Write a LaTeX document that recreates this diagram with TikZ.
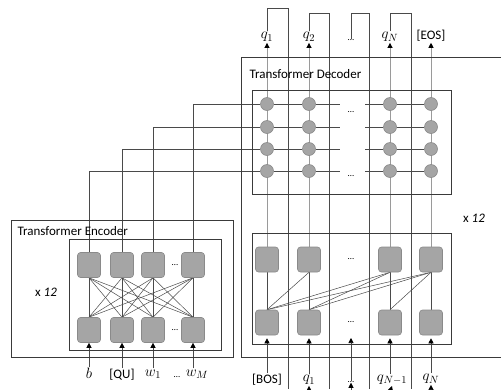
\documentclass[tikz,border=0pt]{standalone}
\usepackage{fix-cm}
\usepackage{fontspec}
\setmainfont{Carlito}
\usepackage{tikz}
\usetikzlibrary{arrows.meta,backgrounds}
\definecolor{blockgray}{HTML}{A5A5A5}
\definecolor{blockedge}{HTML}{8A8A8A}
\definecolor{framegray}{HTML}{3A3A3A}
\definecolor{wiregray}{HTML}{4A4A4A}
\definecolor{colgray}{HTML}{9A9A9A}

\begin{document}
\begin{tikzpicture}[
    x=1pt, y=-1pt,
    font=\fontsize{13}{15}\selectfont,
    frame/.style={draw=framegray, line width=0.8pt},
    block/.style={rectangle, rounded corners=3pt, fill=blockgray, draw=blockedge, line width=0.6pt, minimum width=23pt, minimum height=25pt, inner sep=0pt},
    unit/.style={circle, fill=blockgray, draw=blockedge, line width=0.6pt, minimum size=13pt, inner sep=0pt},
    wire/.style={draw=wiregray, line width=0.5pt},
    colwire/.style={draw=colgray, line width=0.7pt, -{Triangle[length=5pt,width=5pt,color=black]}},
    feed/.style={draw=wiregray, line width=0.6pt, -{Triangle[length=5pt,width=5pt,color=black]}},
    ellip/.style={inner sep=0pt, font=\small},
    tok/.style={inner sep=1pt},
    mtok/.style={inner sep=1pt, font=\fontsize{15}{17}\selectfont}
]
\useasboundingbox (0,0) rectangle (501,389);

% encoder
\draw[frame] (11,220) rectangle (233,357);
\node[anchor=west] (enc-title) at (14,231) {Transformer Encoder};
\draw[frame] (69,239) rectangle (221,350);
\node (enc-rep) at (46,292) {x \textit{12}};
\foreach \n/\x in {1/89,2/122,3/153,4/193} {
    \node[block] (et-\n) at (\x,265) {};
    \node[block] (eb-\n) at (\x,330) {};
}
\node[ellip] (et-dots) at (175,265) {\dots};
\node[ellip] (eb-dots) at (175,330) {\dots};
\node[mtok] (in-b) at (89,373) {$b$};
\node[tok] (in-qu) at (122,375) {[QU]};
\node[mtok] (in-w1) at (153,374) {$w_1$};
\node[ellip] (in-wdots) at (177,377) {\dots};
\node[mtok] (in-wm) at (197,374) {$w_M$};

% decoder
\draw[frame] (501,57) -| (241,357) -- (501,357);
\node[anchor=west] (dec-title) at (246,74) {Transformer Decoder};
\draw[frame] (252,90) rectangle (451,194);
\draw[frame] (252,233) rectangle (451,344);
\node (dec-rep) at (474,218) {x \textit{12}};
\foreach \c/\x in {1/267,2/309,3/390,4/431} {
    \foreach \r/\y in {1/104,2/127,3/149,4/171}
        \node[unit] (u-\r-\c) at (\x,\y) {};
    \node[block] (dt-\c) at (\x,259.5) {};
    \node[block] (db-\c) at (\x,322.5) {};
}
\node[ellip] (u-dots-a) at (351,112) {\dots};
\node[ellip] (u-dots-b) at (351,176) {\dots};
\node[ellip] (dt-dots) at (351,259) {\dots};
\node[ellip] (db-dots) at (351,322) {\dots};

% outputs
\node[mtok] (out-1) at (267,37) {$q_1$};
\node[mtok] (out-2) at (309,37) {$q_2$};
\node[ellip] (out-3) at (351,40) {\dots};
\node[mtok] (out-4) at (390,37) {$q_N$};
\node[tok] (out-5) at (431,36) {[EOS]};

% decoder inputs
\node[tok] (in-1) at (267,380) {[BOS]};
\node[mtok] (in-2) at (309,380) {$q_1$};
\node[ellip] (in-3) at (351,382) {\dots};
\node[mtok] (in-4) at (392,380) {$q_{N-1}$};
\node[mtok] (in-5) at (431,379) {$q_N$};

\coordinate (din-3) at (351,338);
\foreach \k/\x in {2/309,3/351,4/390,5/431}
    \coordinate (back-\k) at (\x,392);
\foreach \k/\xr/\yt in {1/288/8,2/329/13,3/369/13,4/411/13} {
    \coordinate (loop-\k) at (\xr,\yt);
    \coordinate (loop-\k-end) at (\xr,389);
}
\foreach \r/\y in {1/104,2/127,3/149,4/171} {
    \coordinate (gap-\r-a) at (340,\y);
    \coordinate (gap-\r-b) at (365,\y);
}

\begin{scope}[on background layer]
    % encoder attention
    \foreach \i in {1,...,4}
        \foreach \j in {1,...,4}
            \draw[wire] (eb-\i.north) -- (et-\j.south);
    \draw[feed] (in-b.north) -- (eb-1.south);
    \draw[feed] (in-qu.north) -- (eb-2.south);
    \draw[feed] (in-w1.north) -- (eb-3.south);
    \draw[feed] (eb-4 |- in-wm.north) -- (eb-4.south);
    % encoder states into the decoder
    \draw[wire] (et-1.north) |- (u-4-1);
    \draw[wire] (et-2.north) |- (u-3-1);
    \draw[wire] (et-3.north) |- (u-2-1);
    \draw[wire] (et-4.north) |- (u-1-1);
    \foreach \r in {1,...,4} {
        \draw[wire] (u-\r-1) -- (u-\r-2) -- (gap-\r-a);
        \draw[wire] (gap-\r-b) -- (u-\r-3) -- (u-\r-4);
    }
    % masked self attention
    \foreach \c in {1,...,4}
        \draw[wire] (db-\c.north) -- (dt-\c.south);
    \foreach \i/\j in {1/2,1/3,1/4,2/3,2/4,3/4}
        \draw[wire] (db-\i.north) -- (dt-\j.south);
    \foreach \k/\c in {1/1,2/2,4/3,5/4}
        \draw[feed, shorten >=3pt] (db-\c |- in-\k.north) -- (db-\c.south);
    \draw[feed] (in-3.north) -- (din-3);
    % columns up to the outputs
    \draw[colwire] (dt-1.north) -- (out-1.south);
    \draw[colwire] (dt-2.north) -- (out-2.south);
    \draw[colwire] (dt-3.north) -- (out-4.south);
    \draw[colwire] (dt-4.north) -- (out-5.south);
    % fed back as next input
    \foreach \k in {1,...,4}
        \draw[wire] (out-\k.north) |- (loop-\k) -- (loop-\k-end);
    \foreach \k in {2,...,5}
        \draw[feed] (back-\k) -- (in-\k.south);
\end{scope}
\end{tikzpicture}
\end{document}
